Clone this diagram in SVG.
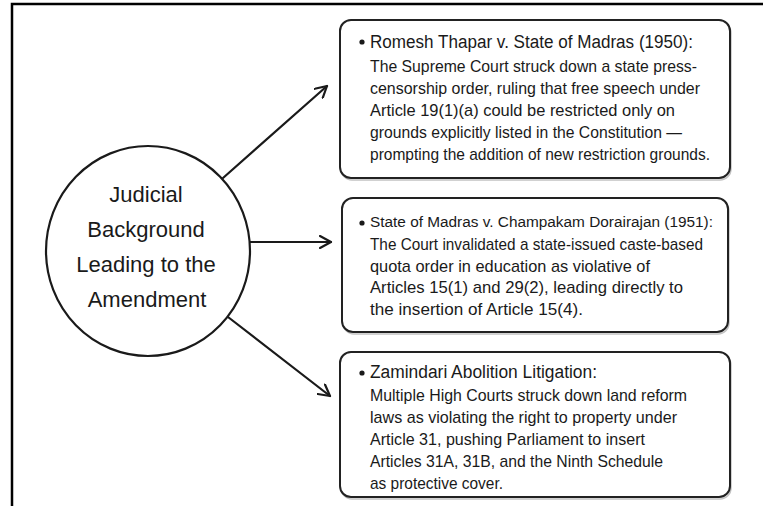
<svg xmlns="http://www.w3.org/2000/svg" width="763" height="506" viewBox="0 0 763 506">
<defs>
<marker id="arr" viewBox="0 0 14 14" refX="12" refY="7" markerWidth="14" markerHeight="14" markerUnits="userSpaceOnUse" orient="auto">
<path d="M1,1 L12,7 L1,13" fill="none" stroke="#1a1a1a" stroke-width="2.2" stroke-linecap="round" stroke-linejoin="round"/>
</marker>
</defs>
<style>
.box{fill:#fff;stroke:#222;stroke-width:2}
.shadow{fill:none;stroke:#999;stroke-width:1.5;opacity:0.6}
.t{font-family:"Liberation Sans",Arial,sans-serif;font-size:17px;fill:#1a1a1a}
.h{font-family:"Liberation Sans",Arial,sans-serif;font-size:18px;fill:#1a1a1a}
.c{font-family:"Liberation Sans",Arial,sans-serif;font-size:22px;fill:#1a1a1a;text-anchor:middle}
.link{fill:none;stroke:#1a1a1a;stroke-width:2.2;stroke-linecap:round}
</style>
<rect width="763" height="506" fill="#fff"/>
<path d="M12,506 L12,4 L763,4" fill="none" stroke="#000" stroke-width="2.5"/>

<g id="connectors">
<line class="link" x1="223" y1="178" x2="327" y2="86" marker-end="url(#arr)"/>
<line class="link" x1="250" y1="242" x2="331" y2="242" marker-end="url(#arr)"/>
<line class="link" x1="228" y1="317" x2="330" y2="396" marker-end="url(#arr)"/>
</g>

<g id="center">
<ellipse cx="148" cy="251" rx="102" ry="105" fill="#fff" stroke="#1a1a1a" stroke-width="2.2"/>
<text class="c" x="146" y="202">Judicial</text>
<text class="c" x="146" y="237">Background</text>
<text class="c" x="146" y="272">Leading to the</text>
<text class="c" x="147" y="307">Amendment</text>
</g>

<g id="box1">
<rect class="shadow" x="341" y="22" width="390" height="158" rx="11"/>
<rect class="box" x="340" y="20" width="390" height="158" rx="11"/>
<circle cx="362" cy="42" r="2.6" fill="#1a1a1a"/>
<text class="h" x="370" y="48" textLength="323" lengthAdjust="spacingAndGlyphs">Romesh Thapar v. State of Madras (1950):</text>
<text class="t" x="370" y="72" textLength="327" lengthAdjust="spacingAndGlyphs">The Supreme Court struck down a state press-</text>
<text class="t" x="370" y="94" textLength="330" lengthAdjust="spacingAndGlyphs">censorship order, ruling that free speech under</text>
<text class="t" x="370" y="116" textLength="305" lengthAdjust="spacingAndGlyphs">Article 19(1)(a) could be restricted only on</text>
<text class="t" x="370" y="138" textLength="312" lengthAdjust="spacingAndGlyphs">grounds explicitly listed in the Constitution —</text>
<text class="t" x="370" y="160" textLength="340" lengthAdjust="spacingAndGlyphs">prompting the addition of new restriction grounds.</text>
</g>

<g id="box2">
<rect class="shadow" x="343" y="200" width="386" height="134" rx="11"/>
<rect class="box" x="342" y="198" width="386" height="134" rx="11"/>
<circle cx="362" cy="223" r="2.6" fill="#1a1a1a"/>
<text class="h" x="370" y="227" style="font-size:15.5px" textLength="343" lengthAdjust="spacingAndGlyphs">State of Madras v. Champakam Dorairajan (1951):</text>
<text class="t" x="370" y="250" textLength="333" lengthAdjust="spacingAndGlyphs">The Court invalidated a state-issued caste-based</text>
<text class="t" x="370" y="272" textLength="280" lengthAdjust="spacingAndGlyphs">quota order in education as violative of</text>
<text class="t" x="370" y="293" textLength="313" lengthAdjust="spacingAndGlyphs">Articles 15(1) and 29(2), leading directly to</text>
<text class="t" x="370" y="315" textLength="213" lengthAdjust="spacingAndGlyphs">the insertion of Article 15(4).</text>
</g>

<g id="box3">
<rect class="shadow" x="341" y="354" width="390" height="145" rx="11"/>
<rect class="box" x="340" y="352" width="390" height="145" rx="11"/>
<circle cx="362" cy="373" r="2.6" fill="#1a1a1a"/>
<text class="h" x="370" y="378" textLength="227" lengthAdjust="spacingAndGlyphs">Zamindari Abolition Litigation:</text>
<text class="t" x="370" y="401" textLength="317" lengthAdjust="spacingAndGlyphs">Multiple High Courts struck down land reform</text>
<text class="t" x="370" y="423" textLength="307" lengthAdjust="spacingAndGlyphs">laws as violating the right to property under</text>
<text class="t" x="370" y="445" textLength="275" lengthAdjust="spacingAndGlyphs">Article 31, pushing Parliament to insert</text>
<text class="t" x="370" y="467" textLength="293" lengthAdjust="spacingAndGlyphs">Articles 31A, 31B, and the Ninth Schedule</text>
<text class="t" x="370" y="489" textLength="133" lengthAdjust="spacingAndGlyphs">as protective cover.</text>
</g>
</svg>
